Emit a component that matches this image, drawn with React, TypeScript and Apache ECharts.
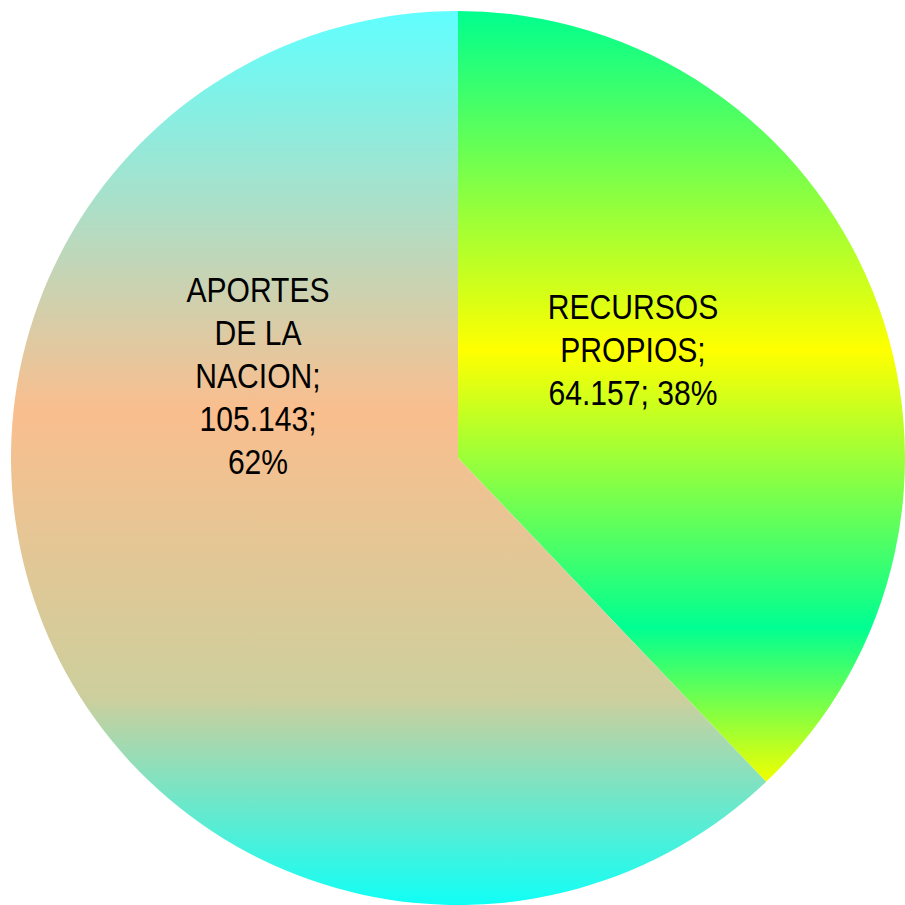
import React, { useEffect, useRef } from "react";
import * as echarts from "echarts";

const categories = ["RECURSOS PROPIOS", "APORTES DE LA NACION"];
const values = [64157, 105143];
const valueLabels = ["64.157", "105.143"];
const percentLabels = ["38%", "62%"];
const labelTexts = [
  `RECURSOS\nPROPIOS;\n${valueLabels[0]}; ${percentLabels[0]}`,
  `APORTES\nDE LA\nNACION;\n${valueLabels[1]};\n${percentLabels[1]}`,
];

const gradRecursos = [
  { offset: 0, color: "#00FF8E" },
  { offset: 0.44, color: "#FFFF00" },
  { offset: 0.8, color: "#00FF92" },
  { offset: 1, color: "#F2FF00" },
];
const gradAportes = [
  { offset: 0, color: "#60FFFF" },
  { offset: 0.447, color: "#FABE8E" },
  { offset: 0.77, color: "#CCCF9D" },
  { offset: 1, color: "#10FFF6" },
];

export default function App() {
  const ref = useRef<HTMLDivElement>(null);
  useEffect(() => {
    const chart = echarts.init(ref.current!, null, { renderer: "svg" });
    const labelPos = [
      [633, 350],
      [258, 376],
    ];
    chart.setOption({
      animation: false,
      backgroundColor: "#ffffff",
      graphic: labelTexts.map((t, i) => ({
        type: "text",
        x: labelPos[i][0],
        y: labelPos[i][1],
        scaleX: 0.86,
        z: 100,
        silent: true,
        style: {
          x: 0,
          y: 0,
          text: t,
          fill: "#000",
          fontFamily: "'Liberation Sans', Arial, sans-serif",
          fontSize: 35,
          lineHeight: 43,
          align: "center",
          verticalAlign: "middle",
        },
      })),
      series: [
        {
          type: "pie",
          center: [458, 458],
          radius: [0, 447],
          startAngle: 90,
          clockwise: true,
          silent: true,
          label: { show: false },
          labelLine: { show: false },
          itemStyle: { borderWidth: 0 },
          data: categories.map((name, i) => ({
            name,
            value: values[i],
            itemStyle: {
              color: new echarts.graphic.LinearGradient(0, 0, 0, 1, i === 0 ? gradRecursos : gradAportes),
            },
          })),
        },
      ],
    });
    return () => chart.dispose();
  }, []);
  return (
    <div
      ref={ref}
      style={{ position: "absolute", left: 0, top: 0, width: 905, height: 905 }}
    />
  );
}
